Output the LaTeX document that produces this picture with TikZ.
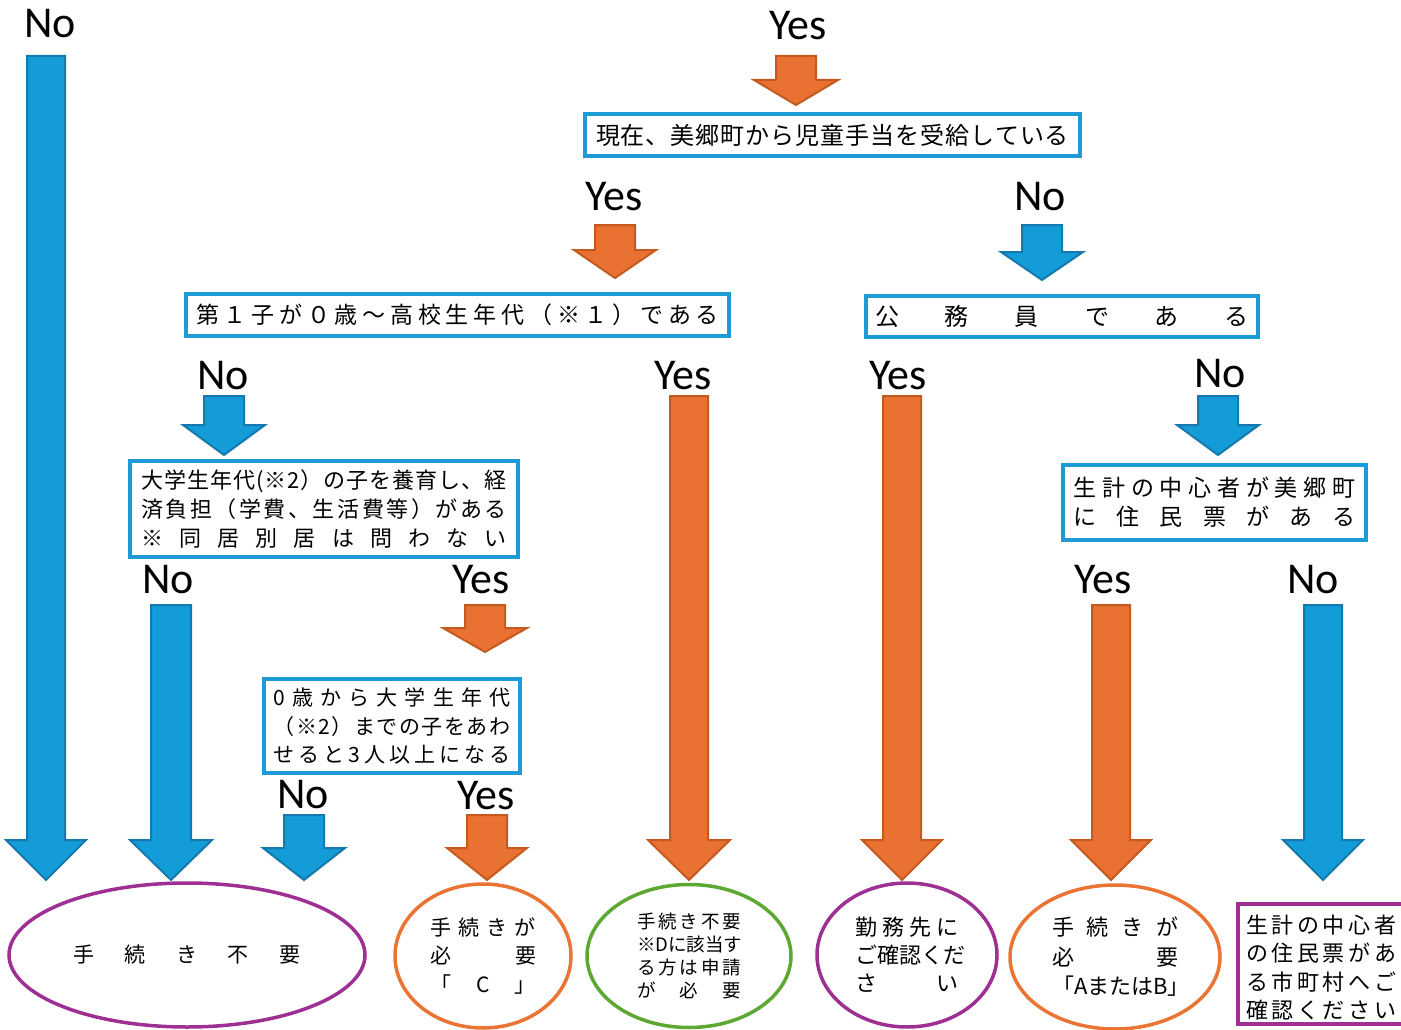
\documentclass[tikz,border=0pt]{standalone}
\usepackage{fontspec}
\setmainfont{Carlito}
\newfontfamily\jp{Noto Sans CJK JP}
\usetikzlibrary{shapes.geometric}
\definecolor{bfill}{HTML}{139CD8}
\definecolor{bline}{HTML}{1579AE}
\definecolor{ofill}{HTML}{E97132}
\definecolor{oline}{HTML}{C45A20}
\definecolor{bbox}{HTML}{1C9BD6}
\definecolor{purp}{HTML}{9E2F93}
\definecolor{grn}{HTML}{5DA832}
\definecolor{oell}{HTML}{EA7434}
\def\sprd#1{#1\sprdnext}
\def\sprdnext#1{\ifx\relax#1\else\hfil#1\expandafter\sprdnext\fi}
\newcommand\spl[2]{\hbox to #1pt{\sprd #2\relax}}
\newcommand\barrow[7]{%
  \draw[#1] (#2-#6,#3) -- (#2+#6,#3) -- (#2+#6,#4) -- (#2+#7,#4) -- (#2,#5)
    -- (#2-#7,#4) -- (#2-#6,#4) -- cycle;}
\tikzset{
  bar/.style={fill=bfill, draw=bline, line width=2pt, line join=miter},
  oar/.style={fill=ofill, draw=oline, line width=2pt, line join=miter},
  lab/.style={font=\fontsize{44}{44}\selectfont, inner sep=0pt},
  qbox/.style={draw=bbox, line width=3.5pt, fill=white, inner sep=0pt},
  ell/.style={ellipse, line width=3.5pt, fill=white, inner sep=0pt},
}
\begin{document}
\begin{tikzpicture}[x=1pt,y=-1pt]
\useasboundingbox (0,0) rectangle (1401,1030);
% block arrows
\barrow{bar}{46}{56}{840}{880}{19}{40}
\barrow{oar}{796}{56}{80}{105}{20}{42}
\barrow{oar}{615}{225}{250}{278}{20}{41}
\barrow{bar}{1042}{225}{252}{280}{20}{41}
\barrow{bar}{224}{396}{425}{455}{20}{41}
\barrow{oar}{689}{396}{840}{880}{19}{41}
\barrow{oar}{902}{396}{840}{880}{19}{40}
\barrow{bar}{1218}{396}{425}{455}{20}{41}
\barrow{bar}{171}{605}{840}{880}{20}{41}
\barrow{oar}{485}{605}{628}{652}{20}{42}
\barrow{oar}{1111}{605}{840}{880}{19}{40}
\barrow{bar}{1323}{605}{840}{880}{19}{40}
\barrow{bar}{304}{815}{848}{880}{20}{41}
\barrow{oar}{487}{815}{848}{880}{20}{40}
% labels
\node[lab] (l1) at (50,24) {No};
\node[lab] (l2) at (798,26) {Yes};
\node[lab] (l3) at (614,197) {Yes};
\node[lab] (l4) at (1040,197) {No};
\node[lab] (l5) at (223,376) {No};
\node[lab] (l6) at (683,376) {Yes};
\node[lab] (l7) at (898,376) {Yes};
\node[lab] (l8) at (1220,374) {No};
\node[lab] (l9) at (168,580) {No};
\node[lab] (l10) at (481,580) {Yes};
\node[lab] (l11) at (1103,580) {Yes};
\node[lab] (l12) at (1313,580) {No};
\node[lab] (l13) at (303,795) {No};
\node[lab] (l14) at (486,796) {Yes};
% question boxes
\node[qbox, minimum width=495pt, minimum height=42pt] (qa) at (832.5,135)
  {\jp\fontsize{24}{24}\selectfont\spl{473}{現在、美郷町から児童手当を受給している}};
\node[qbox, minimum width=543pt, minimum height=42pt] (qb) at (457.5,315)
  {\jp\fontsize{23}{23}\selectfont\spl{523}{第１子が０歳～高校生年代（※１）である}};
\node[qbox, minimum width=392pt, minimum height=41pt] (qc) at (1062,316.5)
  {\jp\fontsize{24}{24}\selectfont\spl{374}{公務員である}};
\node[qbox, minimum width=388pt, minimum height=96pt] (qd) at (324,509)
  {\jp\fontsize{22}{29}\selectfont\vbox{\baselineskip=29pt
   \spl{366}{大学生年代(※2）の子を養育し、経}
   \spl{366}{済負担（学費、生活費等）がある}
   \spl{366}{※同居別居は問わない}}};
\node[qbox, minimum width=256pt, minimum height=94pt] (qe) at (392,726)
  {\jp\fontsize{21}{28.5}\selectfont\vbox{\baselineskip=28.5pt
   \spl{237}{0歳から大学生年代}
   \spl{237}{（※2）までの子をあわ}
   \spl{237}{せると3人以上になる}}};
\node[qbox, minimum width=303pt, minimum height=75pt] (qf) at (1214.5,502.5)
  {\jp\fontsize{23}{29}\selectfont\vbox{\baselineskip=29pt
   \spl{282}{生計の中心者が美郷町}
   \spl{282}{に住民票がある}}};
% results
\node[ell, draw=purp, minimum width=356pt, minimum height=144pt] (r1) at (187,955)
  {\jp\fontsize{21}{21}\selectfont\spl{227}{手続き不要}};
\node[ell, draw=oell, minimum width=176pt, minimum height=144pt] (r2) at (483,956)
  {\jp\fontsize{21}{28.5}\selectfont\vbox{\baselineskip=28.5pt
   \spl{106}{手続きが}
   \spl{106}{必要}
   \spl{106}{「C」}}};
\node[ell, draw=grn, minimum width=204pt, minimum height=143pt] (r3) at (689,956)
  {\jp\fontsize{18.5}{23}\selectfont\vbox{\baselineskip=23pt
   \spl{104}{手続き不要}
   \spl{104}{※Dに該当す}
   \spl{104}{る方は申請}
   \spl{104}{が必要}}};
\node[ell, draw=purp, minimum width=180pt, minimum height=144pt] (r4) at (907,955)
  {\jp\fontsize{22}{28}\selectfont\vbox{\baselineskip=28pt
   \spl{103}{勤務先に}
   \spl{103}{ご確認くだ}
   \spl{103}{さい}}};
\node[ell, draw=oell, minimum width=210pt, minimum height=144pt] (r5) at (1115,957)
  {\jp\fontsize{22}{29.5}\selectfont\vbox{\baselineskip=29.5pt
   \spl{126}{手続きが}
   \spl{126}{必要}
   \spl{126}{「AまたはB」}}};
\node[draw=purp, line width=4.5pt, fill=white, inner sep=0pt,
  minimum width=168pt, minimum height=120pt] (r6) at (1322,964) {};
\node[inner sep=0pt] (r6t) at (1321,967.5)
  {\jp\fontsize{22}{28.5}\selectfont\vbox{\baselineskip=28.5pt
   \spl{150}{生計の中心者}
   \spl{150}{の住民票があ}
   \spl{150}{る市町村へご}
   \spl{150}{確認ください}}};
\end{tikzpicture}
\end{document}
